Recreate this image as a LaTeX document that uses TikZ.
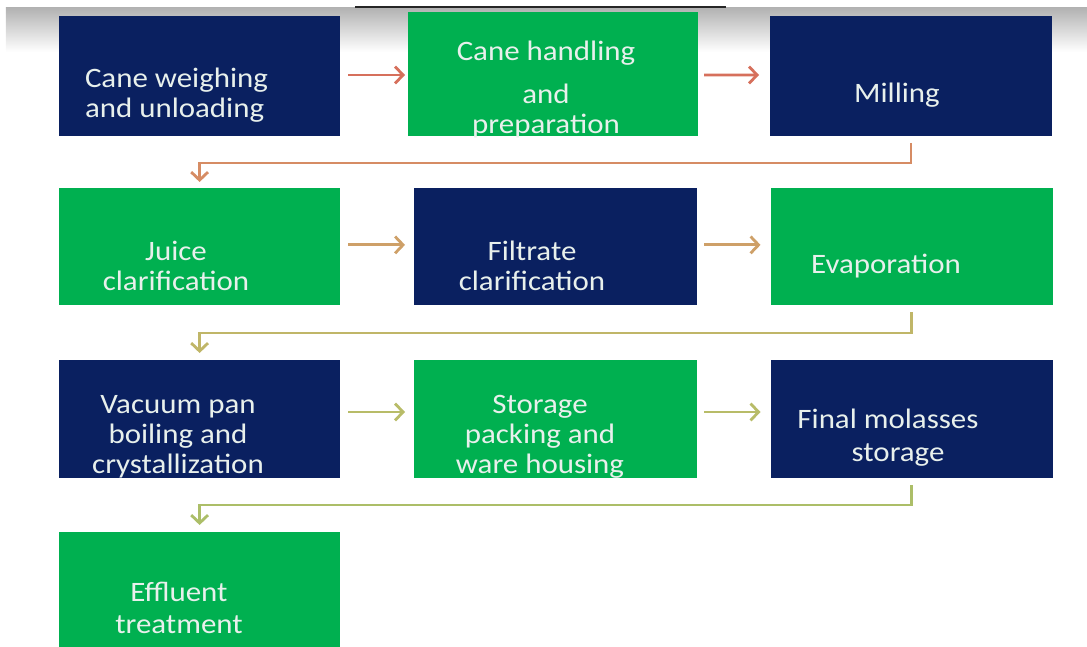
\documentclass[tikz,border=0pt]{standalone}
\usepackage{fontspec}
\setmainfont{Carlito}[FakeStretch=1.1]
\usetikzlibrary{arrows.meta,positioning}

\definecolor{navybox}{RGB}{10,32,96}
\definecolor{greenbox}{RGB}{0,176,80}
\definecolor{boxtext}{RGB}{232,240,236}
\definecolor{linkA}{RGB}{214,112,92}
\definecolor{linkB}{RGB}{214,140,100}
\definecolor{linkC}{RGB}{206,160,104}
\definecolor{linkD}{RGB}{192,182,104}
\definecolor{linkE}{RGB}{184,188,104}
\definecolor{linkF}{RGB}{172,190,104}

\begin{document}
\begin{tikzpicture}[node distance=8.9cm, every node/.style={inner sep=0pt, outer sep=0pt}]

        \tikzset{
          navy/.style={fill=navybox, minimum width=7.025cm, minimum height=3cm},
          green/.style={fill=greenbox, minimum width=7.025cm, minimum height=3cm},
          label text/.style={text=boxtext, align=center, font=\fontsize{20}{21.3}\selectfont},
          link/.style={-{Straight Barb[length=0.2cm, width=0.42cm, line width=2pt]}, line width=2pt}
        }

        % screen edge at the top
        \useasboundingbox (0,0) rectangle (27.175,-16.175);
        \shade[top color=black!30, bottom color=white] (0.15,-0.2) rectangle (27.175,-1.3);
        \draw[line width=1.2pt, black!85] (8.875,-0.17) -- (18.15,-0.17);

        % boxes
        \node[navy]                                                   (cw) at (4.99,-1.9) {};
        \node[green, minimum width=7.25cm, minimum height=3.1cm]       (ch) at (13.825,-1.85) {};
        \node[navy, minimum width=7.05cm]                             (mi) at (22.775,-1.9) {};
        \node[green, minimum height=2.925cm]                          (jc) at (4.99,-6.1625) {};
        \node[navy, minimum width=7.075cm, minimum height=2.925cm]    (fc) at (13.8875,-6.1625) {};
        \node[green, minimum width=7.05cm, minimum height=2.925cm]    (ev) [right of = fc] {};
        \node[navy, minimum height=2.95cm]                            (vp) at (4.99,-10.475) {};
        \node[green, minimum width=7.075cm, minimum height=2.95cm]    (sp) at (13.8875,-10.475) {};
        \node[navy, minimum width=7.05cm, minimum height=2.95cm]      (fm) [right of = sp] {};
        \node[green, minimum height=2.875cm]                          (et) at (4.99,-14.7375) {};

        % texts
        \node[label text, anchor=west, align=left] (cw-t) at (2.125,-2.375) {Cane weighing\\and unloading};
        \node[label text] (ch-t) at (13.65,-2.24) {Cane handling\\[0.325cm]and\\preparation};
        \node[label text] (mi-t) at (22.425,-2.375) {Milling};
        \node[label text] (jc-t) at (4.4,-6.65) {Juice\\clarification};
        \node[label text] (fc-t) at (13.3,-6.65) {Filtrate\\clarification};
        \node[label text] (ev-t) at (22.15,-6.65) {Evaporation};
        \node[label text] (vp-t) at (4.45,-10.925) {Vacuum pan\\boiling and\\crystallization};
        \node[label text] (sp-t) at (13.5,-10.925) {Storage\\packing and\\ware housing};
        \node[label text] (fm-t) at (22.2,-10.94) {Final molasses\\[0.08cm]\hspace*{0.5cm}storage};
        \node[label text] (et-t) at (4.475,-15.2) {Effluent\\[0.05cm]treatment};

        % links
        \draw[link, linkA] ([xshift=0.2cm, yshift=0.025cm]cw.east) -- ([xshift=-0.075cm, yshift=0.025cm]cw.east -| ch.west);
        \draw[link, linkA] ([xshift=0.15cm, yshift=-0.025cm]ch.east) -- ([xshift=-0.275cm, yshift=0.025cm]cw.east -| mi.west);
        \draw[link, linkB] ([yshift=-0.175cm]mi.south) -- ++(0,-0.5) -| ([yshift=0.15cm]jc.north);

        \draw[link, linkC] ([xshift=0.2cm, yshift=0.04cm]jc.east) -- ([xshift=-0.225cm, yshift=0.04cm]jc.east -| fc.west);
        \draw[link, linkC] ([xshift=0.175cm, yshift=0.04cm]fc.east) -- ([xshift=-0.25cm, yshift=0.04cm]fc.east -| ev.west);
        \draw[link, linkD] ([yshift=-0.175cm]ev.south) -- ++(0,-0.525) -| ([yshift=0.175cm]vp.north);

        \draw[link, linkE] ([xshift=0.2cm, yshift=0.175cm]vp.east) -- ([xshift=-0.225cm, yshift=0.175cm]vp.east -| sp.west);
        \draw[link, linkE] ([xshift=0.175cm, yshift=0.175cm]sp.east) -- ([xshift=-0.25cm, yshift=0.175cm]sp.east -| fm.west);
        \draw[link, linkF] ([yshift=-0.175cm]fm.south) -- ++(0,-0.5) -| ([yshift=0.175cm]et.north);

\end{tikzpicture}
\end{document}
